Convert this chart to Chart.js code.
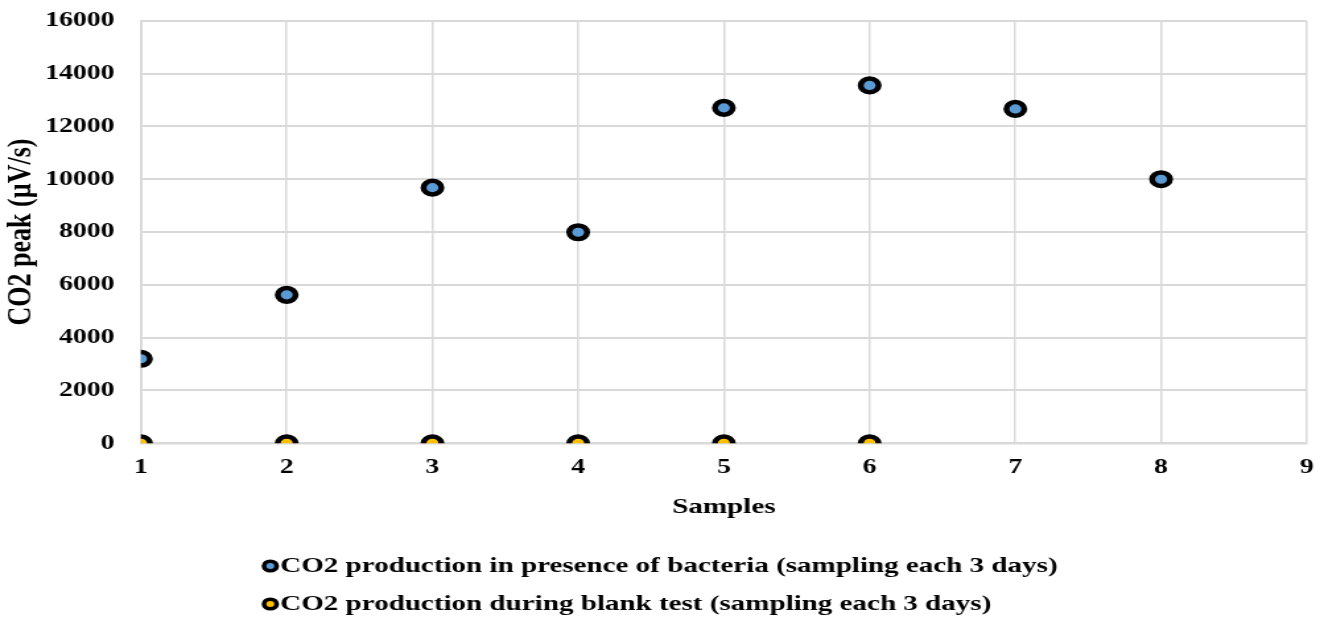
<!DOCTYPE html>
<html>
<head>
<meta charset="utf-8">
<script src="https://cdn.jsdelivr.net/npm/chart.js@4/dist/chart.umd.min.js"></script>
<style>
  html, body { margin: 0; padding: 0; background: #fff; overflow: hidden; }
  #wrap { width: 1003px; height: 620px; transform: scaleX(1.32); transform-origin: 0 0; }
</style>
</head>
<body>
<div id="wrap"><canvas id="co2chart" width="1003" height="620"></canvas></div>
<script>
// samples (x) and CO2 peak values (µV/s)
const bacteriaSamples = [1, 2, 3, 4, 5, 6, 7, 8];
const bacteriaValues = [3200, 5620, 9680, 7990, 12700, 13550, 12660, 10000];
const blankSamples = [1, 2, 3, 4, 5, 6];
const blankValues = [0, 0, 0, 0, 0, 0];
const seriesLabels = [
  'CO2 production in presence of bacteria (sampling each 3 days)',
  'CO2 production during blank test (sampling each 3 days)'
];
const seriesColors = ['#5B9BD5', '#FFC000'];

const FONT = '"Liberation Serif", "Times New Roman", serif';
const gridColor = '#D9D9D9';

// legend drawn under the chart, left aligned like the original
const stackedLegend = {
  id: 'stackedLegend',
  afterDraw(chart) {
    const ctx = chart.ctx;
    const x0 = chart.chartArea.left + 98;
    ctx.save();
    ctx.font = 'bold 22px ' + FONT;
    ctx.textBaseline = 'middle';
    chart.data.datasets.forEach((ds, i) => {
      const y = 566 + i * 38;
      ctx.beginPath();
      ctx.arc(x0, y, 4.8, 0, Math.PI * 2);
      ctx.fillStyle = ds.backgroundColor;
      ctx.fill();
      ctx.lineWidth = 3.6;
      ctx.strokeStyle = '#000';
      ctx.stroke();
      ctx.fillStyle = '#000';
      ctx.fillText(ds.label, x0 + 7.5, y);
    });
    ctx.restore();
  }
};

new Chart(document.getElementById('co2chart'), {
  type: 'scatter',
  plugins: [stackedLegend],
  data: {
    datasets: [
      {
        label: seriesLabels[0],
        data: bacteriaSamples.map((s, i) => ({ x: s, y: bacteriaValues[i] })),
        backgroundColor: seriesColors[0],
        borderColor: '#000',
        borderWidth: 4.5,
        pointRadius: 6.8,
        pointHoverRadius: 6.8,
      },
      {
        label: seriesLabels[1],
        data: blankSamples.map((s, i) => ({ x: s, y: blankValues[i] })),
        backgroundColor: seriesColors[1],
        borderColor: '#000',
        borderWidth: 4.5,
        pointRadius: 6.8,
        pointHoverRadius: 6.8,
      }
    ]
  },
  options: {
    responsive: false,
    animation: false,
    layout: {
      padding: { top: 20.7, right: 13, bottom: 96.7, left: 0 }
    },
    plugins: {
      legend: { display: false },
      title: { display: false },
      tooltip: { enabled: false },
    },
    scales: {
      x: {
        type: 'linear',
        min: 1,
        max: 9,
        afterFit(scale) {
          scale.height = 80;
          scale.paddingLeft = 0;
          scale.paddingRight = 0;
        },
        ticks: {
          stepSize: 1,
          padding: 12,
          color: '#000',
          font: { family: FONT, size: 21, weight: 'bold' },
        },
        grid: { color: gridColor, lineWidth: 1.5, drawTicks: false },
        border: { color: gridColor, width: 1.5 },
        title: {
          display: true,
          text: 'Samples',
          color: '#000',
          padding: { top: 0, bottom: 3 },
          font: { family: FONT, size: 22, weight: 'bold' },
        }
      },
      y: {
        min: 0,
        max: 16000,
        afterFit(scale) {
          scale.width = 106.8;
          scale.paddingTop = 0;
          scale.paddingBottom = 0;
        },
        ticks: {
          stepSize: 2000,
          padding: 20,
          color: '#000',
          font: { family: FONT, size: 21, weight: 'bold' },
          callback: (v) => String(v),
        },
        grid: { color: gridColor, lineWidth: 2, drawTicks: false },
        border: { color: gridColor, width: 2 },
        title: {
          display: true,
          text: 'CO2 peak (µV/s)',
          color: '#000',
          padding: { top: 1, bottom: 0 },
          font: { family: FONT, size: 26, weight: 'bold' },
        }
      }
    }
  }
});
</script>
</body>
</html>
